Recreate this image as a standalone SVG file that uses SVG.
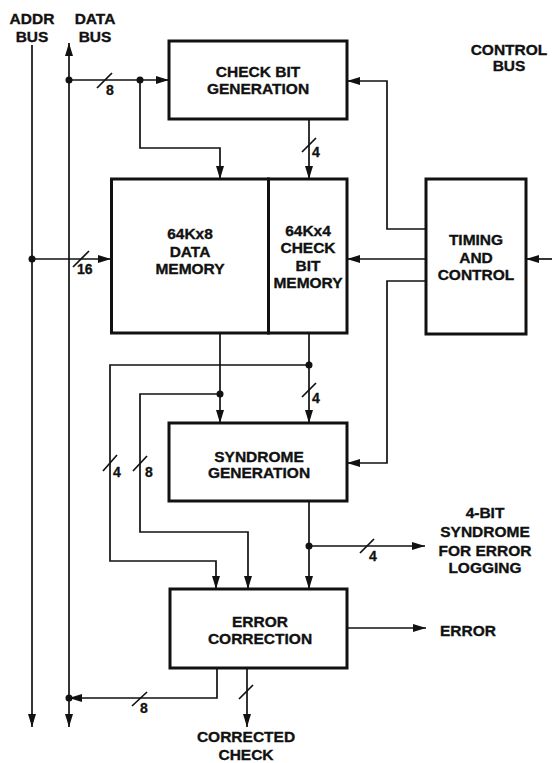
<svg xmlns="http://www.w3.org/2000/svg" width="552" height="763" viewBox="0 0 552 763">
<defs>
<style>
.box{fill:#fff;stroke:#111;stroke-width:3}
.ln{fill:none;stroke:#111;stroke-width:1.7}
.sl{stroke:#111;stroke-width:1.7}
.t{font-family:"Liberation Sans",Arial,sans-serif;font-weight:bold;font-size:15.5px;fill:#111;stroke:#111;stroke-width:0.35;text-anchor:middle}
.n{font-family:"Liberation Sans",Arial,sans-serif;font-weight:bold;font-size:14px;fill:#111;stroke:#111;stroke-width:0.3}
.dot{fill:#111}
</style>
<marker id="ah" viewBox="0 0 13 8" refX="13" refY="4" markerWidth="13" markerHeight="8" markerUnits="userSpaceOnUse" orient="auto-start-reverse">
<path d="M0,0 L13,4 L0,8 z" fill="#111"/>
</marker>
</defs>
<rect width="552" height="763" fill="#fff"/>

<g id="labels">
<text class="t" x="32" y="24">ADDR</text>
<text class="t" x="32" y="42">BUS</text>
<text class="t" x="95" y="24">DATA</text>
<text class="t" x="95" y="42">BUS</text>
<text class="t" x="509" y="55">CONTROL</text>
<text class="t" x="509" y="71">BUS</text>
<text class="t" x="485" y="518">4-BIT</text>
<text class="t" x="485" y="537">SYNDROME</text>
<text class="t" x="485" y="556">FOR ERROR</text>
<text class="t" x="485" y="573">LOGGING</text>
<text class="t" x="468" y="636">ERROR</text>
<text class="t" x="246" y="742">CORRECTED</text>
<text class="t" x="246" y="759.5">CHECK</text>
</g>

<g id="connectors">
<path class="ln" d="M32,45 V727" marker-end="url(#ah)"/>
<path class="ln" d="M69,43 V727" marker-start="url(#ah)" marker-end="url(#ah)"/>
<path class="ln" d="M69,80 H169" marker-end="url(#ah)"/>
<path class="ln" d="M140,80 V148 H220 V179" marker-end="url(#ah)"/>
<path class="ln" d="M309,119 V179" marker-end="url(#ah)"/>
<path class="ln" d="M32,259 H111" marker-end="url(#ah)"/>
<path class="ln" d="M426,229 H387 V81 H347" marker-end="url(#ah)"/>
<path class="ln" d="M426,259 H347" marker-end="url(#ah)"/>
<path class="ln" d="M426,281 H387 V463 H347" marker-end="url(#ah)"/>
<path class="ln" d="M552,259 H526" marker-end="url(#ah)"/>
<path class="ln" d="M220,333 V423" marker-end="url(#ah)"/>
<path class="ln" d="M309,333 V423" marker-end="url(#ah)"/>
<path class="ln" d="M220,394 H140 V532 H248 V589" marker-end="url(#ah)"/>
<path class="ln" d="M309,365 H110 V561 H216 V589" marker-end="url(#ah)"/>
<path class="ln" d="M309,501 V589" marker-end="url(#ah)"/>
<path class="ln" d="M309,546 H425" marker-end="url(#ah)"/>
<path class="ln" d="M347,628 H426" marker-end="url(#ah)"/>
<path class="ln" d="M217,668 V698 H69" marker-end="url(#ah)"/>
<path class="ln" d="M247,668 V727" marker-end="url(#ah)"/>
<circle class="dot" cx="69" cy="80" r="3.5"/>
<circle class="dot" cx="140" cy="80" r="3.5"/>
<circle class="dot" cx="32" cy="259" r="3.5"/>
<circle class="dot" cx="220" cy="394" r="3.5"/>
<circle class="dot" cx="309" cy="365" r="3.5"/>
<circle class="dot" cx="309" cy="546" r="3.5"/>
<circle class="dot" cx="69" cy="698" r="3.5"/>
<line class="sl" x1="97" y1="88" x2="112" y2="73"/>
<text class="n" x="106" y="95">8</text>
<line class="sl" x1="302" y1="152" x2="316" y2="138"/>
<text class="n" x="312" y="157">4</text>
<line class="sl" x1="73" y1="267" x2="89" y2="251"/>
<text class="n" x="77" y="274">16</text>
<line class="sl" x1="302" y1="397" x2="316" y2="383"/>
<text class="n" x="312" y="403">4</text>
<line class="sl" x1="103" y1="471" x2="117" y2="455"/>
<text class="n" x="113" y="477">4</text>
<line class="sl" x1="133" y1="471" x2="147" y2="456"/>
<text class="n" x="145" y="477">8</text>
<line class="sl" x1="360" y1="553" x2="374" y2="539"/>
<text class="n" x="369" y="561">4</text>
<line class="sl" x1="132" y1="706" x2="147" y2="692"/>
<text class="n" x="140" y="713">8</text>
<line class="sl" x1="239" y1="699" x2="253" y2="685"/>
</g>

<g id="check-bit-generation">
<rect class="box" x="169" y="41" width="178" height="78"/>
<text class="t" x="258" y="77">CHECK BIT</text>
<text class="t" x="258" y="94">GENERATION</text>
</g>

<g id="data-memory">
<rect class="box" x="111.5" y="179" width="157" height="154"/>
<text class="t" x="190" y="239">64Kx8</text>
<text class="t" x="190" y="257">DATA</text>
<text class="t" x="190" y="274">MEMORY</text>
</g>

<g id="check-bit-memory">
<rect class="box" x="268.5" y="179" width="78.5" height="154"/>
<text class="t" x="308" y="236">64Kx4</text>
<text class="t" x="308" y="253">CHECK</text>
<text class="t" x="308" y="271">BIT</text>
<text class="t" x="308" y="288">MEMORY</text>
</g>

<g id="timing-and-control">
<rect class="box" x="426" y="179" width="100" height="155"/>
<text class="t" x="476" y="245">TIMING</text>
<text class="t" x="476" y="263">AND</text>
<text class="t" x="476" y="280">CONTROL</text>
</g>

<g id="syndrome-generation">
<rect class="box" x="169" y="423" width="178" height="78"/>
<text class="t" x="259" y="462">SYNDROME</text>
<text class="t" x="259" y="478">GENERATION</text>
</g>

<g id="error-correction">
<rect class="box" x="170" y="589" width="177" height="79"/>
<text class="t" x="260" y="627">ERROR</text>
<text class="t" x="260" y="644">CORRECTION</text>
</g>
</svg>
